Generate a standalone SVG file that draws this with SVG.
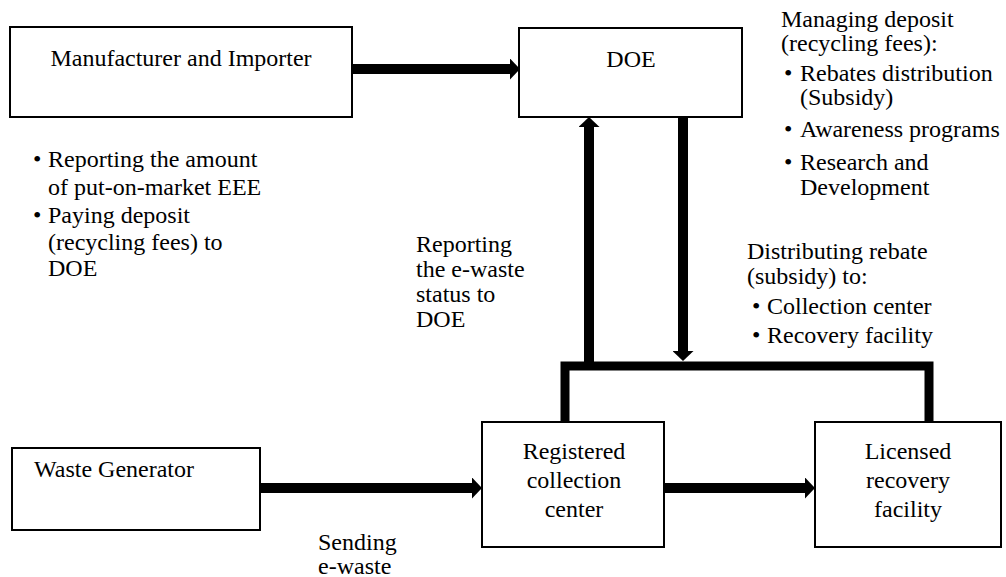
<svg xmlns="http://www.w3.org/2000/svg" width="1006" height="577" viewBox="0 0 1006 577">
<defs>
<marker id="ah" viewBox="0 0 10 21" markerWidth="10" markerHeight="21" refX="0" refY="10.5" orient="auto" markerUnits="userSpaceOnUse">
<path d="M0,0 L10,10.5 L0,21 Z" fill="#000"/>
</marker>
</defs>
<rect width="1006" height="577" fill="#fff"/>
<g id="connectors" stroke="#000" fill="none">
<g stroke-width="10" marker-end="url(#ah)">
<line x1="352" y1="69" x2="510" y2="69"/>
<line x1="589" y1="366" x2="589" y2="127"/>
<line x1="683" y1="117" x2="683" y2="351"/>
<line x1="260" y1="488" x2="472" y2="488"/>
<line x1="664" y1="488" x2="805" y2="488"/>
</g>
<polyline stroke-width="9" points="565,422 565,366 929,366 929,422"/>
</g>
<g font-family="Liberation Serif" font-size="24" fill="#000">
<g id="manufacturer">
<rect x="10" y="27" width="342" height="90" fill="#fff" stroke="#000" stroke-width="2"/>
<text text-anchor="middle" x="181" y="66" font-family="Liberation Serif">Manufacturer and Importer</text>
</g>
<g id="doe">
<rect x="519" y="28" width="223" height="89" fill="#fff" stroke="#000" stroke-width="2"/>
<text text-anchor="middle" x="631" y="67" font-family="Liberation Serif">DOE</text>
</g>
<g id="waste-generator">
<rect x="12" y="448" width="248" height="82" fill="#fff" stroke="#000" stroke-width="2"/>
<text x="34" y="477" font-family="Liberation Serif">Waste Generator</text>
</g>
<g id="registered" text-anchor="middle">
<rect x="482" y="422" width="182" height="125" fill="#fff" stroke="#000" stroke-width="2"/>
<text x="574" y="459" font-family="Liberation Serif">Registered</text>
<text x="574" y="488" font-family="Liberation Serif">collection</text>
<text x="574" y="517" font-family="Liberation Serif">center</text>
</g>
<g id="licensed" text-anchor="middle">
<rect x="815" y="422" width="186" height="125" fill="#fff" stroke="#000" stroke-width="2"/>
<text x="908" y="459" font-family="Liberation Serif">Licensed</text>
<text x="908" y="488" font-family="Liberation Serif">recovery</text>
<text x="908" y="517" font-family="Liberation Serif">facility</text>
</g>
<g id="labels">
<text x="33" y="167" font-family="Liberation Serif">&#8226;</text><text x="48" y="167" font-family="Liberation Serif">Reporting the amount</text>
<text x="48" y="195" font-family="Liberation Serif">of put-on-market EEE</text>
<text x="33" y="223" font-family="Liberation Serif">&#8226;</text><text x="48" y="223" font-family="Liberation Serif">Paying deposit</text>
<text x="48" y="250" font-family="Liberation Serif">(recycling fees) to</text>
<text x="48" y="276" font-family="Liberation Serif">DOE</text>
<text x="781" y="27" font-family="Liberation Serif">Managing deposit</text>
<text x="781" y="51" font-family="Liberation Serif">(recycling fees):</text>
<text x="784" y="81" font-family="Liberation Serif">&#8226;</text><text x="800" y="81" font-family="Liberation Serif">Rebates distribution</text>
<text x="800" y="105" font-family="Liberation Serif">(Subsidy)</text>
<text x="784" y="137" font-family="Liberation Serif">&#8226;</text><text x="800" y="137" font-family="Liberation Serif">Awareness programs</text>
<text x="784" y="170" font-family="Liberation Serif">&#8226;</text><text x="800" y="170" font-family="Liberation Serif">Research and</text>
<text x="800" y="195" font-family="Liberation Serif">Development</text>
<text x="416" y="252" font-family="Liberation Serif">Reporting</text>
<text x="416" y="277" font-family="Liberation Serif">the e-waste</text>
<text x="416" y="302" font-family="Liberation Serif">status to</text>
<text x="416" y="327" font-family="Liberation Serif">DOE</text>
<text x="747" y="259" font-family="Liberation Serif">Distributing rebate</text>
<text x="747" y="284" font-family="Liberation Serif">(subsidy) to:</text>
<text x="752" y="314" font-family="Liberation Serif">&#8226;</text><text x="767" y="314" font-family="Liberation Serif">Collection center</text>
<text x="752" y="343" font-family="Liberation Serif">&#8226;</text><text x="767" y="343" font-family="Liberation Serif">Recovery facility</text>
<text x="318" y="550" font-family="Liberation Serif">Sending</text>
<text x="318" y="574" font-family="Liberation Serif">e-waste</text>
</g>
</g>
</svg>
